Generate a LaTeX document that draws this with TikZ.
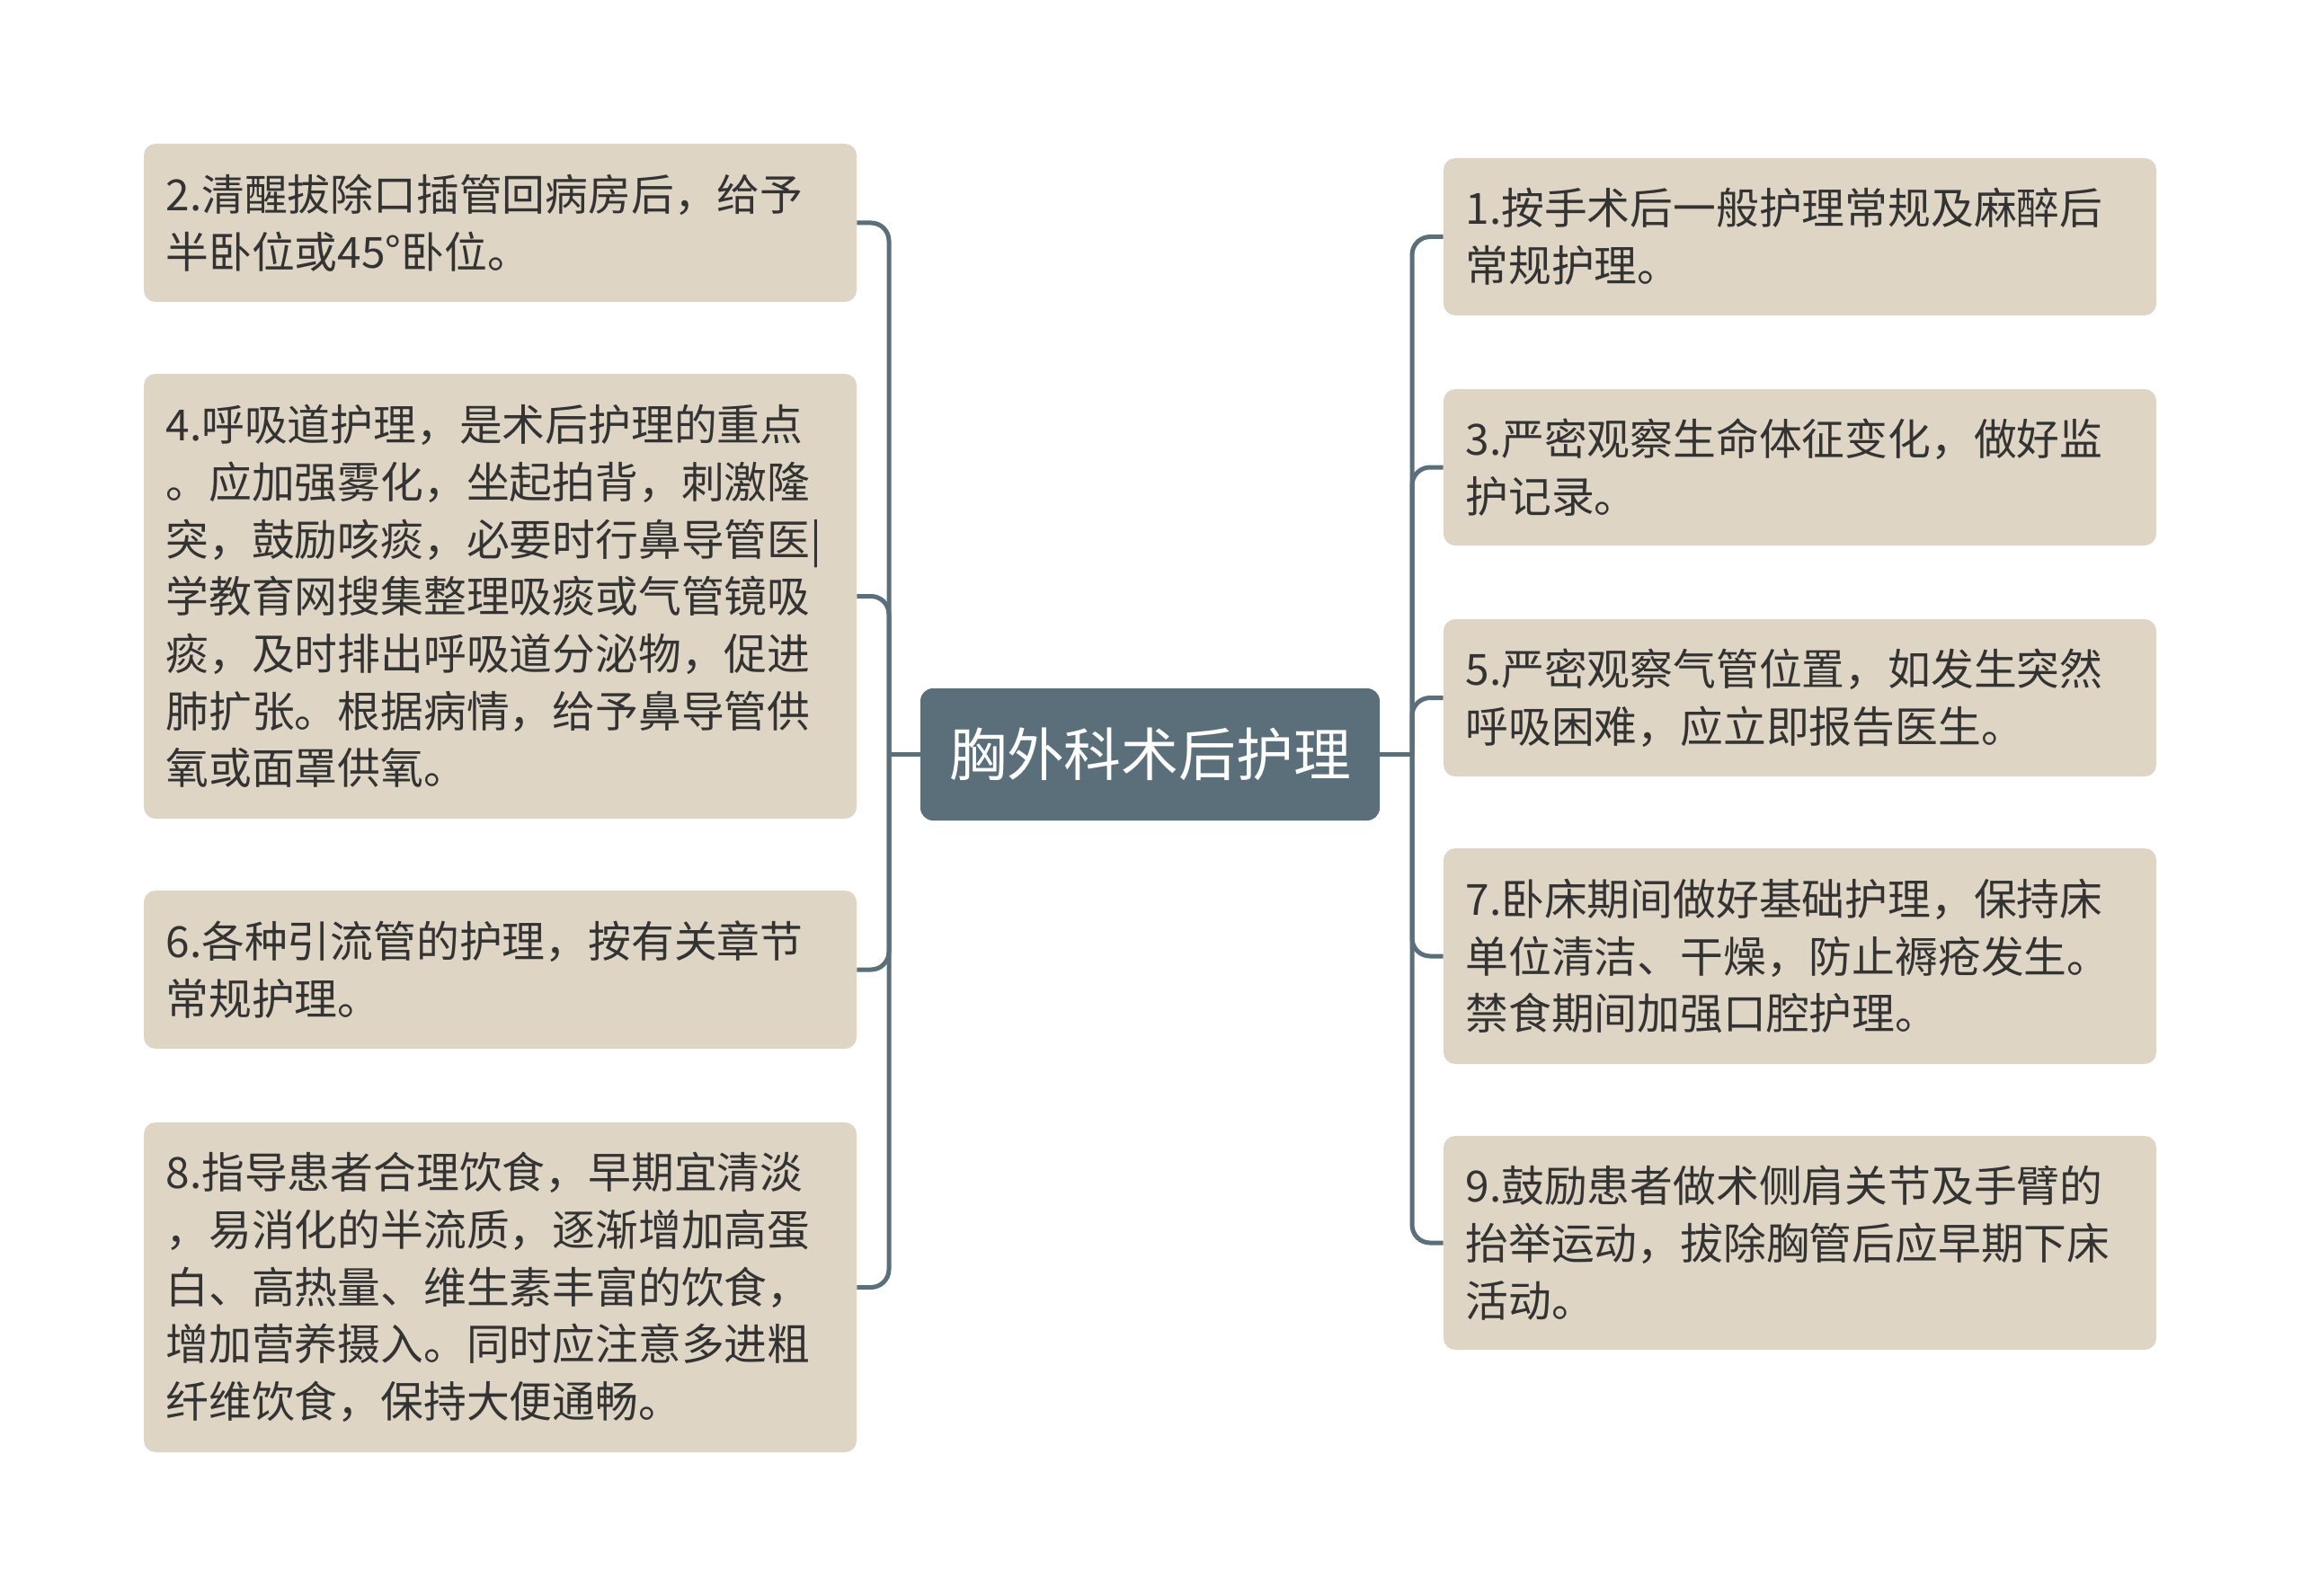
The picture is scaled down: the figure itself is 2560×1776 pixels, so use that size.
\documentclass[tikz,border=0pt]{standalone}
\usepackage{fontspec}
\setmainfont{Noto Sans CJK SC}
\definecolor{leaffill}{HTML}{DFD5C5}
\definecolor{rootfill}{HTML}{5B6F7B}
\definecolor{linec}{HTML}{5B6F7B}
\definecolor{txt}{HTML}{333333}
\tikzset{
  leaf/.style={fill=leaffill, rounded corners=6.5pt, text=txt, text width=372pt,
    inner xsep=12.25pt, inner ysep=0pt, align=left,
    font=\fontsize{23.9pt}{31.85pt}\selectfont},
  rootbox/.style={fill=rootfill, rounded corners=7pt, text=white,
    minimum width=255.5pt, minimum height=73.5pt, inner sep=0pt,
    font=\fontsize{31.9pt}{38pt}\selectfont},
  conn/.style={draw=linec, line width=2.5pt, rounded corners=10pt}
}
\begin{document}
\begin{tikzpicture}[x=0.5pt,y=-0.5pt]
\useasboundingbox[fill=white] (0,0) rectangle (2560,1776);
\node[rootbox] (root) at (1279.5,839.5) {胸外科术后护理};
% left
\node[leaf, minimum height=88pt] (b2) at (556.5,248) {2.清醒拔除口插管回病房后，给予\\半卧位或45°卧位。};
\node[leaf, minimum height=247.5pt] (b4) at (556.5,663.5) {4.呼吸道护理，是术后护理的重点\\。应加强雾化，坐起拍背，刺激隆\\突，鼓励咳痰，必要时行鼻导管医|\\学教育网搜集整理吸痰或气管镜吸\\痰，及时排出呼吸道分泌物，促进\\肺扩张。根据病情，给予鼻导管供\\氧或面罩供氧。};
\node[leaf, minimum height=88pt] (b6) at (556.5,1079) {6.各种引流管的护理，按有关章节\\常规护理。};
\node[leaf, minimum height=183.5pt] (b8) at (556.5,1432.5) {8.指导患者合理饮食，早期宜清淡\\，易消化的半流质，逐渐增加高蛋\\白、高热量、维生素丰富的饮食，\\增加营养摄入。同时应注意多进粗\\纤维饮食，保持大便通畅。};
% right
\node[leaf, minimum height=87.5pt] (b1) at (2002.5,263.5) {1.按手术后一般护理常规及麻醉后\\常规护理。};
\node[leaf, minimum height=87pt] (b3) at (2002.5,520) {3.严密观察生命体征变化，做好监\\护记录。};
\node[leaf, minimum height=87.5pt] (b5) at (2002.5,776.5) {5.严密观察气管位置，如发生突然\\呼吸困难，应立即报告医生。};
\node[leaf, minimum height=120pt] (b7) at (2002.5,1064) {7.卧床期间做好基础护理，保持床\\单位清洁、干燥，防止褥疮发生。\\禁食期间加强口腔护理。};
\node[leaf, minimum height=119pt] (b9) at (2002.5,1383) {9.鼓励患者做术侧肩关节及手臂的\\抬举运动，拔除胸管后应早期下床\\活动。};
% connectors
\coordinate (jL) at (989,839.5);
\coordinate (jR) at (1571,839.5);
\draw[conn] (root.west) -- (jL);
\draw[conn] (root.east) -- (jR);
\foreach \n in {b2,b4,b6,b8} \draw[conn] (jL) |- (\n.east);
\foreach \n in {b1,b3,b5,b7,b9} \draw[conn] (jR) |- (\n.west);
\end{tikzpicture}
\end{document}
